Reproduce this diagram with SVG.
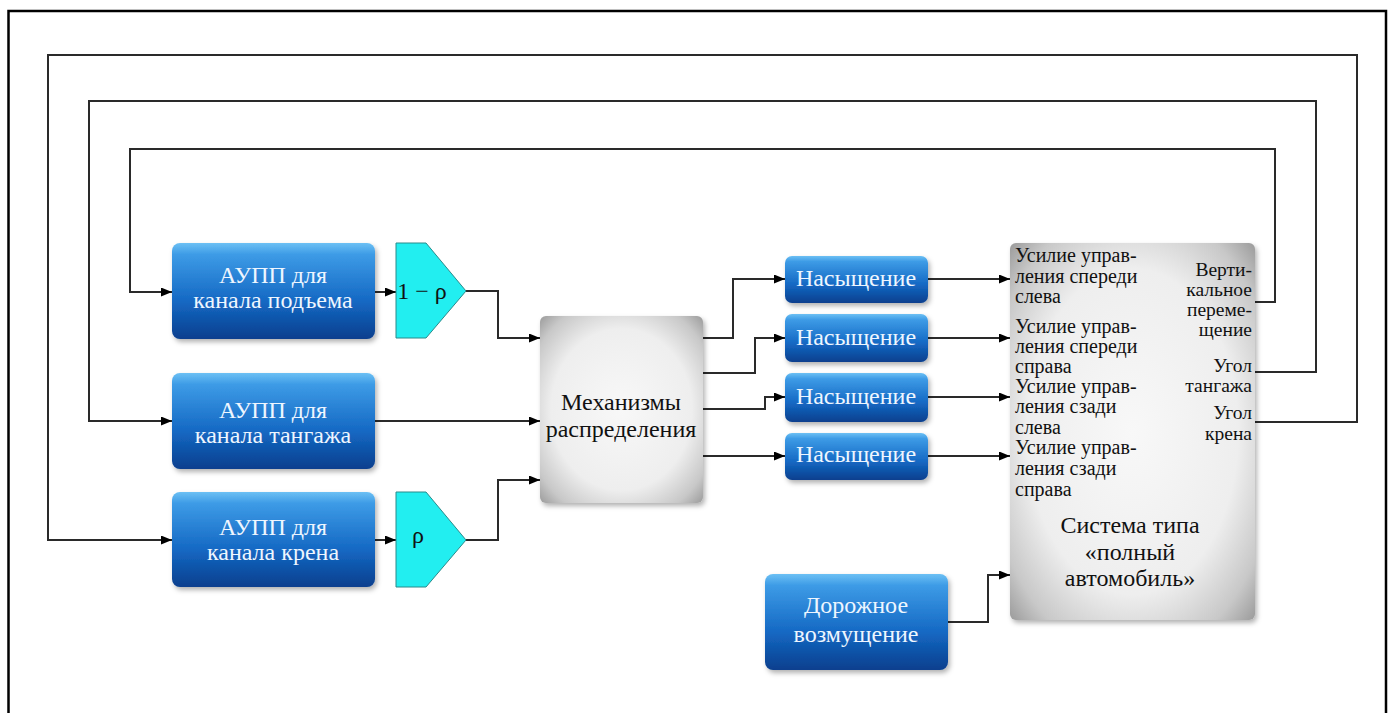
<svg xmlns="http://www.w3.org/2000/svg" width="1391" height="713" viewBox="0 0 1391 713">
<defs>
<linearGradient id="blue" x1="0" y1="0" x2="0" y2="1">
<stop offset="0" stop-color="#6cc0f4"/>
<stop offset="0.12" stop-color="#3d9be6"/>
<stop offset="0.6" stop-color="#1569c4"/>
<stop offset="1" stop-color="#083f8e"/>
</linearGradient>
<radialGradient id="grey" cx="0.5" cy="0.5" r="0.72">
<stop offset="0" stop-color="#f8f8f8"/>
<stop offset="0.6" stop-color="#eeeeee"/>
<stop offset="0.84" stop-color="#c8c8c8"/>
<stop offset="1" stop-color="#959595"/>
</radialGradient>
<filter id="sh" x="-10%" y="-10%" width="130%" height="130%">
<feDropShadow dx="2" dy="3" stdDeviation="2.5" flood-color="#000" flood-opacity="0.3"/>
</filter>
<marker id="arr" markerUnits="userSpaceOnUse" markerWidth="11" markerHeight="9" refX="11" refY="4.5" orient="auto">
<path d="M0,0 L11,4.5 L0,9 z" fill="#000"/>
</marker>
</defs>
<style>
.blue{fill:url(#blue);filter:url(#sh)}
.grey{fill:url(#grey);filter:url(#sh)}
.gain{fill:#22eef0;stroke:#2a8a8a;stroke-width:1}
.wt{font-family:"Liberation Serif","Times New Roman",serif;font-size:24px;fill:#eef6ff;text-anchor:middle}
.bt{font-family:"Liberation Serif","Times New Roman",serif;font-size:24px;fill:#111;text-anchor:middle}
.pt{font-family:"Liberation Serif","Times New Roman",serif;font-size:20px;fill:#111}
.rt{font-family:"Liberation Serif","Times New Roman",serif;font-size:19.5px;fill:#111;text-anchor:end}
.c{fill:none;stroke:#2a2a2a;stroke-width:2}
.a{marker-end:url(#arr)}
</style>
<rect width="1391" height="713" fill="#fff"/>
<path d="M8.5,713 V11 H1386 V713" fill="none" stroke="#000" stroke-width="2.5"/>
<g id="connectors">
<path class="c a" d="M1255,422 H1357 V55 H48 V540 H172"/>
<path class="c a" d="M1255,372 H1316 V101 H89 V421 H172"/>
<path class="c a" d="M1255,302 H1275 V149 H130 V292 H172"/>
<path class="c a" d="M375,292 H396"/>
<path class="c a" d="M375,540 H396"/>
<path class="c a" d="M466,291 H498 V338 H540"/>
<path class="c a" d="M375,421 H540"/>
<path class="c a" d="M466,540 H498 V480 H540"/>
<path class="c a" d="M703,338 H733 V279 H785"/>
<path class="c a" d="M703,373 H755 V338 H785"/>
<path class="c a" d="M703,409 H765 V397 H785"/>
<path class="c a" d="M703,456 H785"/>
<path class="c a" d="M928,279 H1010"/>
<path class="c a" d="M928,338 H1010"/>
<path class="c a" d="M928,397 H1010"/>
<path class="c a" d="M928,456 H1010"/>
<path class="c a" d="M948,622 H988 V575 H1010"/>
</g>
<g id="aupp-lift">
<rect class="blue" x="172" y="243" width="203" height="96" rx="8"/>
<text class="wt" x="273" y="283">АУПП для</text>
<text class="wt" x="273" y="308">канала подъема</text>
</g>
<g id="aupp-pitch">
<rect class="blue" x="172" y="373" width="203" height="96" rx="8"/>
<text class="wt" x="273" y="418">АУПП для</text>
<text class="wt" x="273" y="443">канала тангажа</text>
</g>
<g id="aupp-roll">
<rect class="blue" x="172" y="492" width="203" height="95" rx="8"/>
<text class="wt" x="273" y="535">АУПП для</text>
<text class="wt" x="273" y="560">канала крена</text>
</g>
<g id="gain-1-rho">
<polygon class="gain" points="396,243 426,243 466,291 426,338 396,338"/>
<text class="bt" x="422" y="299">1 − ρ</text>
</g>
<g id="gain-rho">
<polygon class="gain" points="396,492 426,492 466,540 426,587 396,587"/>
<text class="bt" x="418" y="543">ρ</text>
</g>
<g id="mechanism">
<rect class="grey" x="540" y="316" width="163" height="187" rx="6"/>
<text class="bt" x="621" y="410">Механизмы</text>
<text class="bt" x="621" y="437">распределения</text>
</g>
<g id="sat1">
<rect class="blue" x="785" y="256" width="143" height="47" rx="7"/>
<text class="wt" x="856" y="286">Насыщение</text>
</g>
<g id="sat2">
<rect class="blue" x="785" y="314" width="143" height="48" rx="7"/>
<text class="wt" x="856" y="345">Насыщение</text>
</g>
<g id="sat3">
<rect class="blue" x="785" y="373" width="143" height="49" rx="7"/>
<text class="wt" x="856" y="404">Насыщение</text>
</g>
<g id="sat4">
<rect class="blue" x="785" y="433" width="143" height="47" rx="7"/>
<text class="wt" x="856" y="462">Насыщение</text>
</g>
<g id="vehicle">
<rect class="grey" x="1010" y="243" width="245" height="377" rx="6"/>
<text class="pt" x="1015" y="262">Усилие управ-</text>
<text class="pt" x="1015" y="283">ления спереди</text>
<text class="pt" x="1015" y="303">слева</text>
<text class="pt" x="1015" y="333">Усилие управ-</text>
<text class="pt" x="1015" y="353">ления спереди</text>
<text class="pt" x="1015" y="373">справа</text>
<text class="pt" x="1015" y="393">Усилие управ-</text>
<text class="pt" x="1015" y="413">ления сзади</text>
<text class="pt" x="1015" y="434">слева</text>
<text class="pt" x="1015" y="454">Усилие управ-</text>
<text class="pt" x="1015" y="475">ления сзади</text>
<text class="pt" x="1015" y="496">справа</text>
<text class="rt" x="1252" y="276">Верти-</text>
<text class="rt" x="1252" y="296">кальное</text>
<text class="rt" x="1252" y="316">переме-</text>
<text class="rt" x="1252" y="336">щение</text>
<text class="rt" x="1252" y="372">Угол</text>
<text class="rt" x="1252" y="392">тангажа</text>
<text class="rt" x="1252" y="419">Угол</text>
<text class="rt" x="1252" y="440">крена</text>
<text class="bt" x="1130" y="533">Система типа</text>
<text class="bt" x="1130" y="560">«полный</text>
<text class="bt" x="1130" y="586">автомобиль»</text>
</g>
<g id="road">
<rect class="blue" x="765" y="574" width="183" height="96" rx="8"/>
<text class="wt" x="856" y="613">Дорожное</text>
<text class="wt" x="856" y="642">возмущение</text>
</g>
</svg>
